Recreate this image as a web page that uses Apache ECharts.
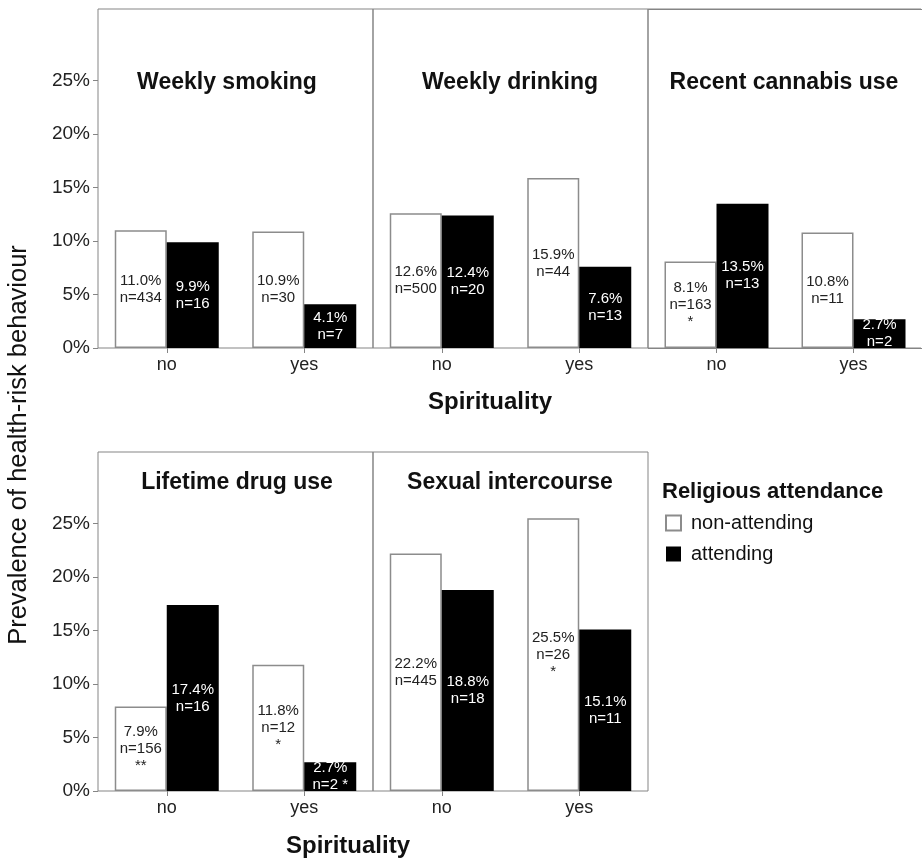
<!DOCTYPE html>
<html>
<head>
<meta charset="utf-8">
<script src="https://cdn.jsdelivr.net/npm/echarts@6/dist/echarts.min.js"></script>
<style>
  html, body { margin: 0; padding: 0; background: #fff; }
  #chart { width: 922px; height: 864px; }
</style>
</head>
<body>
<div id="chart"></div>
<script>
// data
const spirituality = ['no', 'yes'];
const behaviours = ['Weekly smoking', 'Weekly drinking', 'Recent cannabis use', 'Lifetime drug use', 'Sexual intercourse'];
const nonAttending = [[11.0, 10.9], [12.6, 15.9], [8.1, 10.8], [7.9, 11.8], [22.2, 25.5]];
const attending = [[9.9, 4.1], [12.4, 7.6], [13.5, 2.7], [17.4, 2.7], [18.8, 15.1]];
const nonAttendingN = [[434, 30], [500, 44], [163, 11], [156, 12], [445, 26]];
const attendingN = [[16, 7], [20, 13], [13, 2], [16, 2], [18, 11]];
const nonAttendingSig = [['', ''], ['', ''], ['*', ''], ['**', '*'], ['', '*']];
const attendingSig = [['', ''], ['', ''], ['', ''], ['', '*'], ['', '']];
const yTicks = [0, 5, 10, 15, 20, 25];

// layout of the five panels
const panels = [
    { left: 98, top: 9, title: [227, 83], yAxis: true },
    { left: 373, top: 9, title: [510, 83], yAxis: false },
    { left: 648, top: 9, title: [784, 83], yAxis: false },
    { left: 98, top: 452, title: [237, 483], yAxis: true },
    { left: 373, top: 452, title: [510, 483], yAxis: false }
];
const font = 'Liberation Sans, Arial, Helvetica, sans-serif';
const gray = '#858585';

const chart = echarts.init(document.getElementById('chart'));

const grids = [], xAxes = [], yAxes = [], series = [], graphics = [];

panels.forEach((p, i) => {
    grids.push({
        left: p.left, top: p.top, width: 275, height: 339,
        show: true, borderColor: gray, borderWidth: 1, backgroundColor: 'transparent'
    });
    xAxes.push({
        type: 'category', gridIndex: i, data: spirituality,
        axisLine: { show: false },
        axisTick: { show: true, alignWithLabel: true, length: 5, lineStyle: { color: gray } },
        axisLabel: { fontSize: 18, color: '#222', fontFamily: font, margin: 8 }
    });
    yAxes.push({
        type: 'value', gridIndex: i, min: 0, max: 31.7,
        splitLine: { show: false },
        axisLine: { show: false },
        axisTick: { show: p.yAxis, length: 5, customValues: yTicks, lineStyle: { color: gray } },
        axisLabel: {
            show: p.yAxis, customValues: yTicks, fontSize: 19, color: '#222', fontFamily: font, margin: 8,
            formatter: v => v + '%'
        }
    });
    series.push({
        name: 'non-attending', type: 'bar', xAxisIndex: i, yAxisIndex: i,
        barWidth: 52, barGap: '0%',
        itemStyle: { color: '#fff', borderColor: '#8c8c8c', borderWidth: 1.5 },
        label: {
            show: true, position: 'inside', color: '#222', fontSize: 15, lineHeight: 17, fontFamily: font,
            formatter: d => {
                const j = d.dataIndex;
                let s = nonAttending[i][j].toFixed(1) + '%\nn=' + nonAttendingN[i][j];
                if (nonAttendingSig[i][j]) s += '\n' + nonAttendingSig[i][j];
                return s;
            }
        },
        data: nonAttending[i]
    });
    series.push({
        name: 'attending', type: 'bar', xAxisIndex: i, yAxisIndex: i,
        barWidth: 52, barGap: '0%',
        itemStyle: { color: '#000', borderColor: '#000', borderWidth: 0 },
        label: {
            show: true, position: 'inside', color: '#fff', fontSize: 15, lineHeight: 17, fontFamily: font,
            formatter: d => {
                const j = d.dataIndex;
                let s = attending[i][j].toFixed(1) + '%\nn=' + attendingN[i][j];
                if (attendingSig[i][j]) s += ' ' + attendingSig[i][j];
                return s;
            }
        },
        data: attending[i]
    });
    graphics.push({
        type: 'text', x: p.title[0], y: p.title[1],
        style: {
            text: behaviours[i], font: 'bold 23px ' + font, fill: '#111',
            textAlign: 'center', textVerticalAlign: 'middle'
        }
    });
});

// shared axis titles and legend heading
graphics.push({
    type: 'text', x: 490, y: 402,
    style: { text: 'Spirituality', font: 'bold 24px ' + font, fill: '#111', textAlign: 'center', textVerticalAlign: 'middle' }
});
graphics.push({
    type: 'text', x: 348, y: 846,
    style: { text: 'Spirituality', font: 'bold 24px ' + font, fill: '#111', textAlign: 'center', textVerticalAlign: 'middle' }
});
graphics.push({
    type: 'text', x: 19, y: 445, rotation: Math.PI / 2,
    style: { text: 'Prevalence of health-risk behaviour', font: '25.5px ' + font, fill: '#111', textAlign: 'center', textVerticalAlign: 'middle' }
});
graphics.push({
    type: 'text', x: 662, y: 492,
    style: { text: 'Religious attendance', font: 'bold 22px ' + font, fill: '#111', textAlign: 'left', textVerticalAlign: 'middle' }
});
// the third panel runs off the right edge of the figure, so hide its right border
graphics.push({
    type: 'rect', shape: { x: 921, y: 0, width: 10, height: 400 },
    style: { fill: '#fff' }, z: 100
});
graphics.push({
    type: 'line', shape: { x1: 648, y1: 9.5, x2: 922, y2: 9.5 },
    style: { stroke: gray, lineWidth: 1 }, z: 101
});
graphics.push({
    type: 'line', shape: { x1: 648, y1: 348.5, x2: 922, y2: 348.5 },
    style: { stroke: gray, lineWidth: 1 }, z: 101
});

chart.setOption({
    backgroundColor: '#ffffff',
    animation: false,
    grid: grids,
    xAxis: xAxes,
    yAxis: yAxes,
    series: series,
    legend: {
        data: ['non-attending', 'attending'],
        orient: 'vertical', left: 665, top: 513,
        itemWidth: 15, itemHeight: 15, itemGap: 11, padding: 0,
        icon: 'rect',
        textStyle: { fontSize: 20, color: '#111', fontFamily: font, padding: [0, 0, 0, 5] }
    },
    graphic: graphics
});
</script>
</body>
</html>
